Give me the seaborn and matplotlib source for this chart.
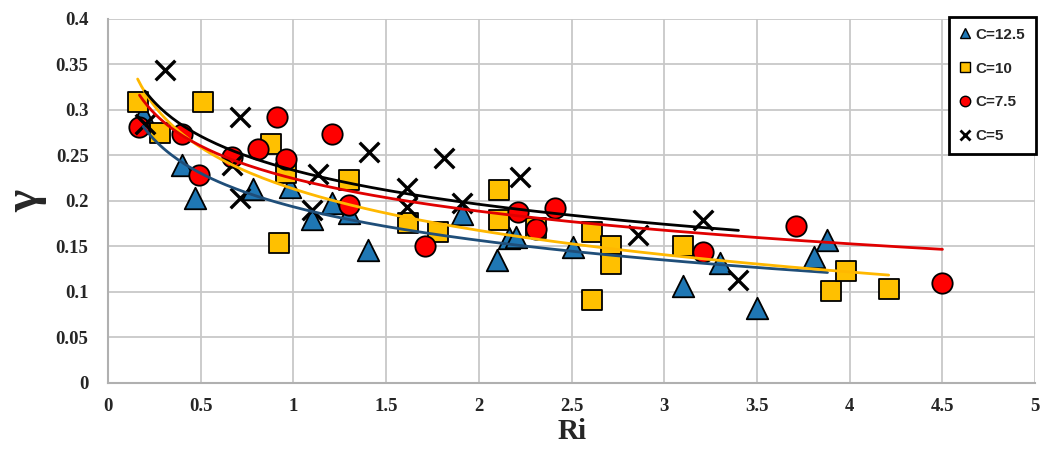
import numpy as np
import pandas as pd
import matplotlib
matplotlib.use("Agg")
import matplotlib.pyplot as plt
from matplotlib.lines import Line2D
import seaborn as sns

# Measured points for each concentration C
ri_125 = [0.19, 0.40, 0.47, 0.78, 0.98, 1.10, 1.21, 1.30, 1.40, 1.91, 2.10, 2.16, 2.20, 2.51, 3.10, 3.30, 3.50, 3.81, 3.88]
g_125 = [0.295, 0.240, 0.203, 0.213, 0.215, 0.180, 0.198, 0.187, 0.146, 0.186, 0.135, 0.159, 0.160, 0.149, 0.107, 0.132, 0.082, 0.138, 0.157]

ri_10 = [0.16, 0.28, 0.51, 0.88, 0.92, 0.96, 1.30, 1.62, 1.78, 2.11, 2.11, 2.31, 2.61, 2.61, 2.71, 2.71, 3.10, 3.90, 3.98, 4.21]
g_10 = [0.309, 0.275, 0.309, 0.263, 0.154, 0.231, 0.223, 0.176, 0.166, 0.212, 0.179, 0.170, 0.166, 0.091, 0.150, 0.131, 0.150, 0.101, 0.123, 0.103]

ri_75 = [0.17, 0.40, 0.49, 0.67, 0.81, 0.91, 0.96, 1.21, 1.30, 1.71, 2.21, 2.31, 2.41, 3.21, 3.71, 4.50]
g_75 = [0.281, 0.273, 0.229, 0.248, 0.257, 0.292, 0.246, 0.274, 0.196, 0.150, 0.188, 0.169, 0.192, 0.144, 0.172, 0.110]

ri_5 = [0.20, 0.31, 0.67, 0.71, 0.71, 1.10, 1.13, 1.41, 1.61, 1.61, 1.81, 1.91, 2.22, 2.86, 3.21, 3.40]
g_5 = [0.285, 0.344, 0.240, 0.292, 0.203, 0.190, 0.230, 0.254, 0.214, 0.193, 0.247, 0.198, 0.226, 0.163, 0.179, 0.113]

labels = ["C=12.5", "C=10", "C=7.5", "C=5"]
x_ticks = [0, 0.5, 1, 1.5, 2, 2.5, 3, 3.5, 4, 4.5, 5]
y_ticks = [0, 0.05, 0.1, 0.15, 0.2, 0.25, 0.3, 0.35, 0.4]

series = [
    (ri_125, g_125, "^", "#1F77B4", "#1F4E79", 240),
    (ri_10, g_10, "s", "#FFC000", "#FFB800", 215),
    (ri_75, g_75, "o", "#FF0000", "#E00000", 215),
    (ri_5, g_5, "x", "black", "black", 200),
]

sns.set_theme(style="white")
fig, ax = plt.subplots(figsize=(10.43, 4.49), dpi=100)
fig.subplots_adjust(left=0.1035, right=0.9925, top=0.958, bottom=0.147)

for (xs, ys, mk, col, lcol, size), lab in zip(series, labels):
    df = pd.DataFrame({"Ri": xs, "gamma": ys})
    if mk == "x":
        sns.scatterplot(data=df, x="Ri", y="gamma", marker="x", color=col,
                        s=size, linewidth=2.4, ax=ax, zorder=3)
    else:
        sns.scatterplot(data=df, x="Ri", y="gamma", marker=mk, color=col,
                        edgecolor="black", linewidth=1.3, s=size, ax=ax, zorder=3)

# Logarithmic trendlines  gamma = a + b * ln(Ri), least squares over each series
for (xs, ys, mk, col, lcol, size) in series:
    b, a = np.polyfit(np.log(xs), ys, 1)
    xf = np.linspace(min(xs), max(xs), 200)
    fit = pd.DataFrame({"Ri": xf, "gamma": a + b * np.log(xf)})
    sns.lineplot(data=fit, x="Ri", y="gamma", color=lcol, linewidth=2.0, ax=ax, zorder=4)

ax.set_xlim(0, 5)
ax.set_ylim(0, 0.4)
ax.set_xticks(x_ticks)
ax.set_yticks(y_ticks)
ax.set_xticklabels([f"{v:g}" for v in x_ticks])
ax.set_yticklabels([f"{v:g}" for v in y_ticks])
ax.grid(True, color="#c8c8c8", linewidth=1.3)
ax.set_axisbelow(True)
for side in ["top", "right"]:
    ax.spines[side].set_visible(False)
for side in ["left", "bottom"]:
    ax.spines[side].set_color("#b0b0b0")
    ax.spines[side].set_linewidth(1.5)

serif = ["Liberation Serif", "DejaVu Serif"]
for t in ax.get_xticklabels() + ax.get_yticklabels():
    t.set_fontfamily(serif)
    t.set_fontweight("bold")
    t.set_fontsize(13.5)
ax.tick_params(axis="x", length=0, pad=11)
ax.tick_params(axis="y", length=0, pad=14)

ax.set_xlabel("Ri", fontfamily=serif, fontweight="bold", fontsize=21, labelpad=2)
ax.set_ylabel("γ", fontfamily=serif, fontweight="bold", fontsize=34)
ax.yaxis.set_label_coords(-0.066, 0.5)

handles = []
for (xs, ys, mk, col, lcol, size), lab in zip(series, labels):
    if mk == "x":
        h = Line2D([], [], marker="x", color="black", linestyle="none",
                   markersize=6.5, markeredgewidth=2)
    else:
        h = Line2D([], [], marker=mk, markerfacecolor=col, markeredgecolor="black",
                   linestyle="none", markersize=7.5, markeredgewidth=1)
    handles.append(h)
leg = ax.legend(handles, labels, loc="upper right", bbox_to_anchor=(1.001, 1.005),
                frameon=True, fancybox=False, labelspacing=1.3, handlelength=0.7,
                handletextpad=0.35, borderpad=0.7, borderaxespad=0,
                prop={"family": ["Liberation Sans", "DejaVu Sans"], "weight": "bold", "size": 11})
leg.get_frame().set_edgecolor("black")
leg.get_frame().set_linewidth(2)
leg.get_frame().set_facecolor("white")
leg.get_frame().set_alpha(1)
leg.set_zorder(10)

fig.savefig("out.png", dpi=100)
